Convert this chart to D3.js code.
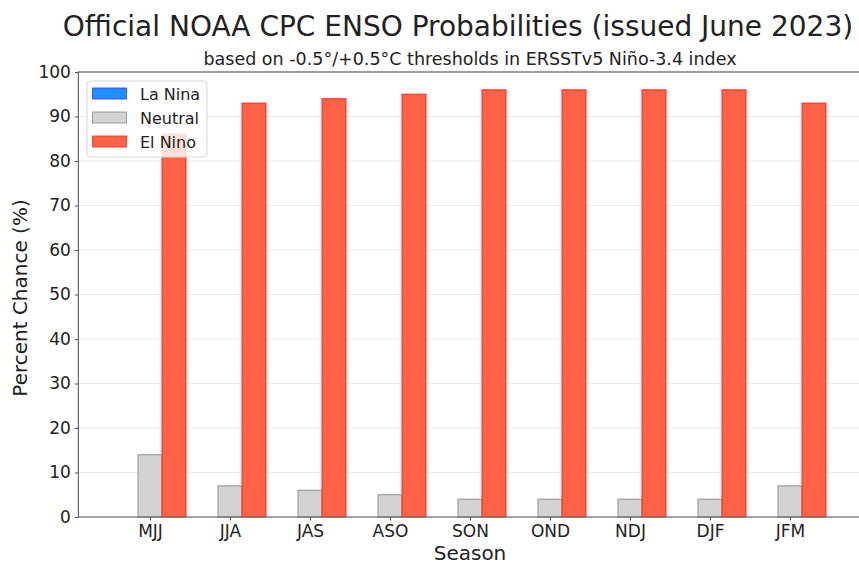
<!DOCTYPE html>
<html><head><meta charset="utf-8">
<script src="https://cdn.jsdelivr.net/npm/d3@7"></script>
<style>body{margin:0;background:#fff}svg{display:block}text{font-family:"DejaVu Sans",sans-serif;fill:#222}</style>
</head><body><svg id="c" width="859" height="565"></svg>
<script>
const seasons = ["MJJ","JJA","JAS","ASO","SON","OND","NDJ","DJF","JFM"];
const laNina  = [0,0,0,0,0,0,0,0,0];
const neutral = [14,7,6,5,4,4,4,4,7];
const elNino  = [86,93,94,95,96,96,96,96,93];
const yTicks  = [0,10,20,30,40,50,60,70,80,90,100];
const seriesNames = ["La Nina","Neutral","El Nino"];
const fills = ["#1E90FF","#D3D3D3","#FF6347"];
const strokes = ["#3333ff","#8a8a8a","#ff2020"];

const svg = d3.select("#c");
const L=78.4, R=861.6, T=72, B=517;
const x = d3.scaleLinear().domain([-0.895, 8.895]).range([L,R]);
const y = d3.scaleLinear().domain([0,100]).range([B,T]);

// grid
svg.append("g").selectAll("line").data(yTicks.slice(1)).join("line")
  .attr("x1",L).attr("x2",R).attr("y1",d=>y(d)).attr("y2",d=>y(d))
  .attr("stroke","#e8e8e8").attr("stroke-width",1);

const data = [laNina, neutral, elNino];
const bw = 0.3;
data.forEach((vals,si)=>{
  svg.append("g").selectAll("rect").data(vals).join("rect")
    .attr("x",(d,i)=>x(i+(si-1)*bw-bw/2))
    .attr("width",x(bw)-x(0))
    .attr("y",d=>y(d)).attr("height",d=>Math.max(0,y(0)-y(d)))
    .attr("fill",fills[si]).attr("stroke",strokes[si]).attr("stroke-opacity",0.8).attr("stroke-width",1.2);
});

// axes
const xa = svg.append("g").attr("transform",`translate(0,${B})`)
  .call(d3.axisBottom(x).tickValues(d3.range(seasons.length)).tickFormat(i=>seasons[i]).tickSize(3.5).tickPadding(4));
const ya = svg.append("g").attr("transform",`translate(${L},0)`)
  .call(d3.axisLeft(y).tickValues(yTicks).tickSize(3.5).tickPadding(4));
[xa,ya].forEach(a=>{a.select(".domain").remove();a.selectAll("line").attr("stroke","#555");a.selectAll("text").style("font-size","17px").attr("fill","#222");});
// spines
svg.append("rect").attr("x",L).attr("y",T).attr("width",R-L).attr("height",B-T)
  .attr("fill","none").attr("stroke","#666").attr("stroke-width",1.2);

// titles
svg.append("text").attr("x",458).attr("y",35.5).attr("text-anchor","middle")
  .style("font-size","28px").text("Official NOAA CPC ENSO Probabilities (issued June 2023)");
svg.append("text").attr("x",470).attr("y",65).attr("text-anchor","middle")
  .style("font-size","17.5px").text("based on -0.5°/+0.5°C thresholds in ERSSTv5 Niño-3.4 index");
svg.append("text").attr("x",470).attr("y",560).attr("text-anchor","middle").style("font-size","20px").text("Season");
svg.append("text").attr("transform","translate(27,298) rotate(-90)").attr("text-anchor","middle").style("font-size","20px").text("Percent Chance (%)");

// legend
const lg = svg.append("g").attr("transform","translate(87,81)");
lg.append("rect").attr("width",120).attr("height",76).attr("rx",3)
  .attr("fill","white").attr("fill-opacity",0.8).attr("stroke","#d5d5d5");
seriesNames.forEach((n,i)=>{
  lg.append("rect").attr("x",5.5).attr("y",7+i*24).attr("width",34).attr("height",11)
    .attr("fill",fills[i]).attr("stroke",strokes[i]).attr("stroke-opacity",0.8);
  lg.append("text").attr("x",53).attr("y",18.5+i*24).style("font-size","16px").text(n);
});
</script></body></html>
